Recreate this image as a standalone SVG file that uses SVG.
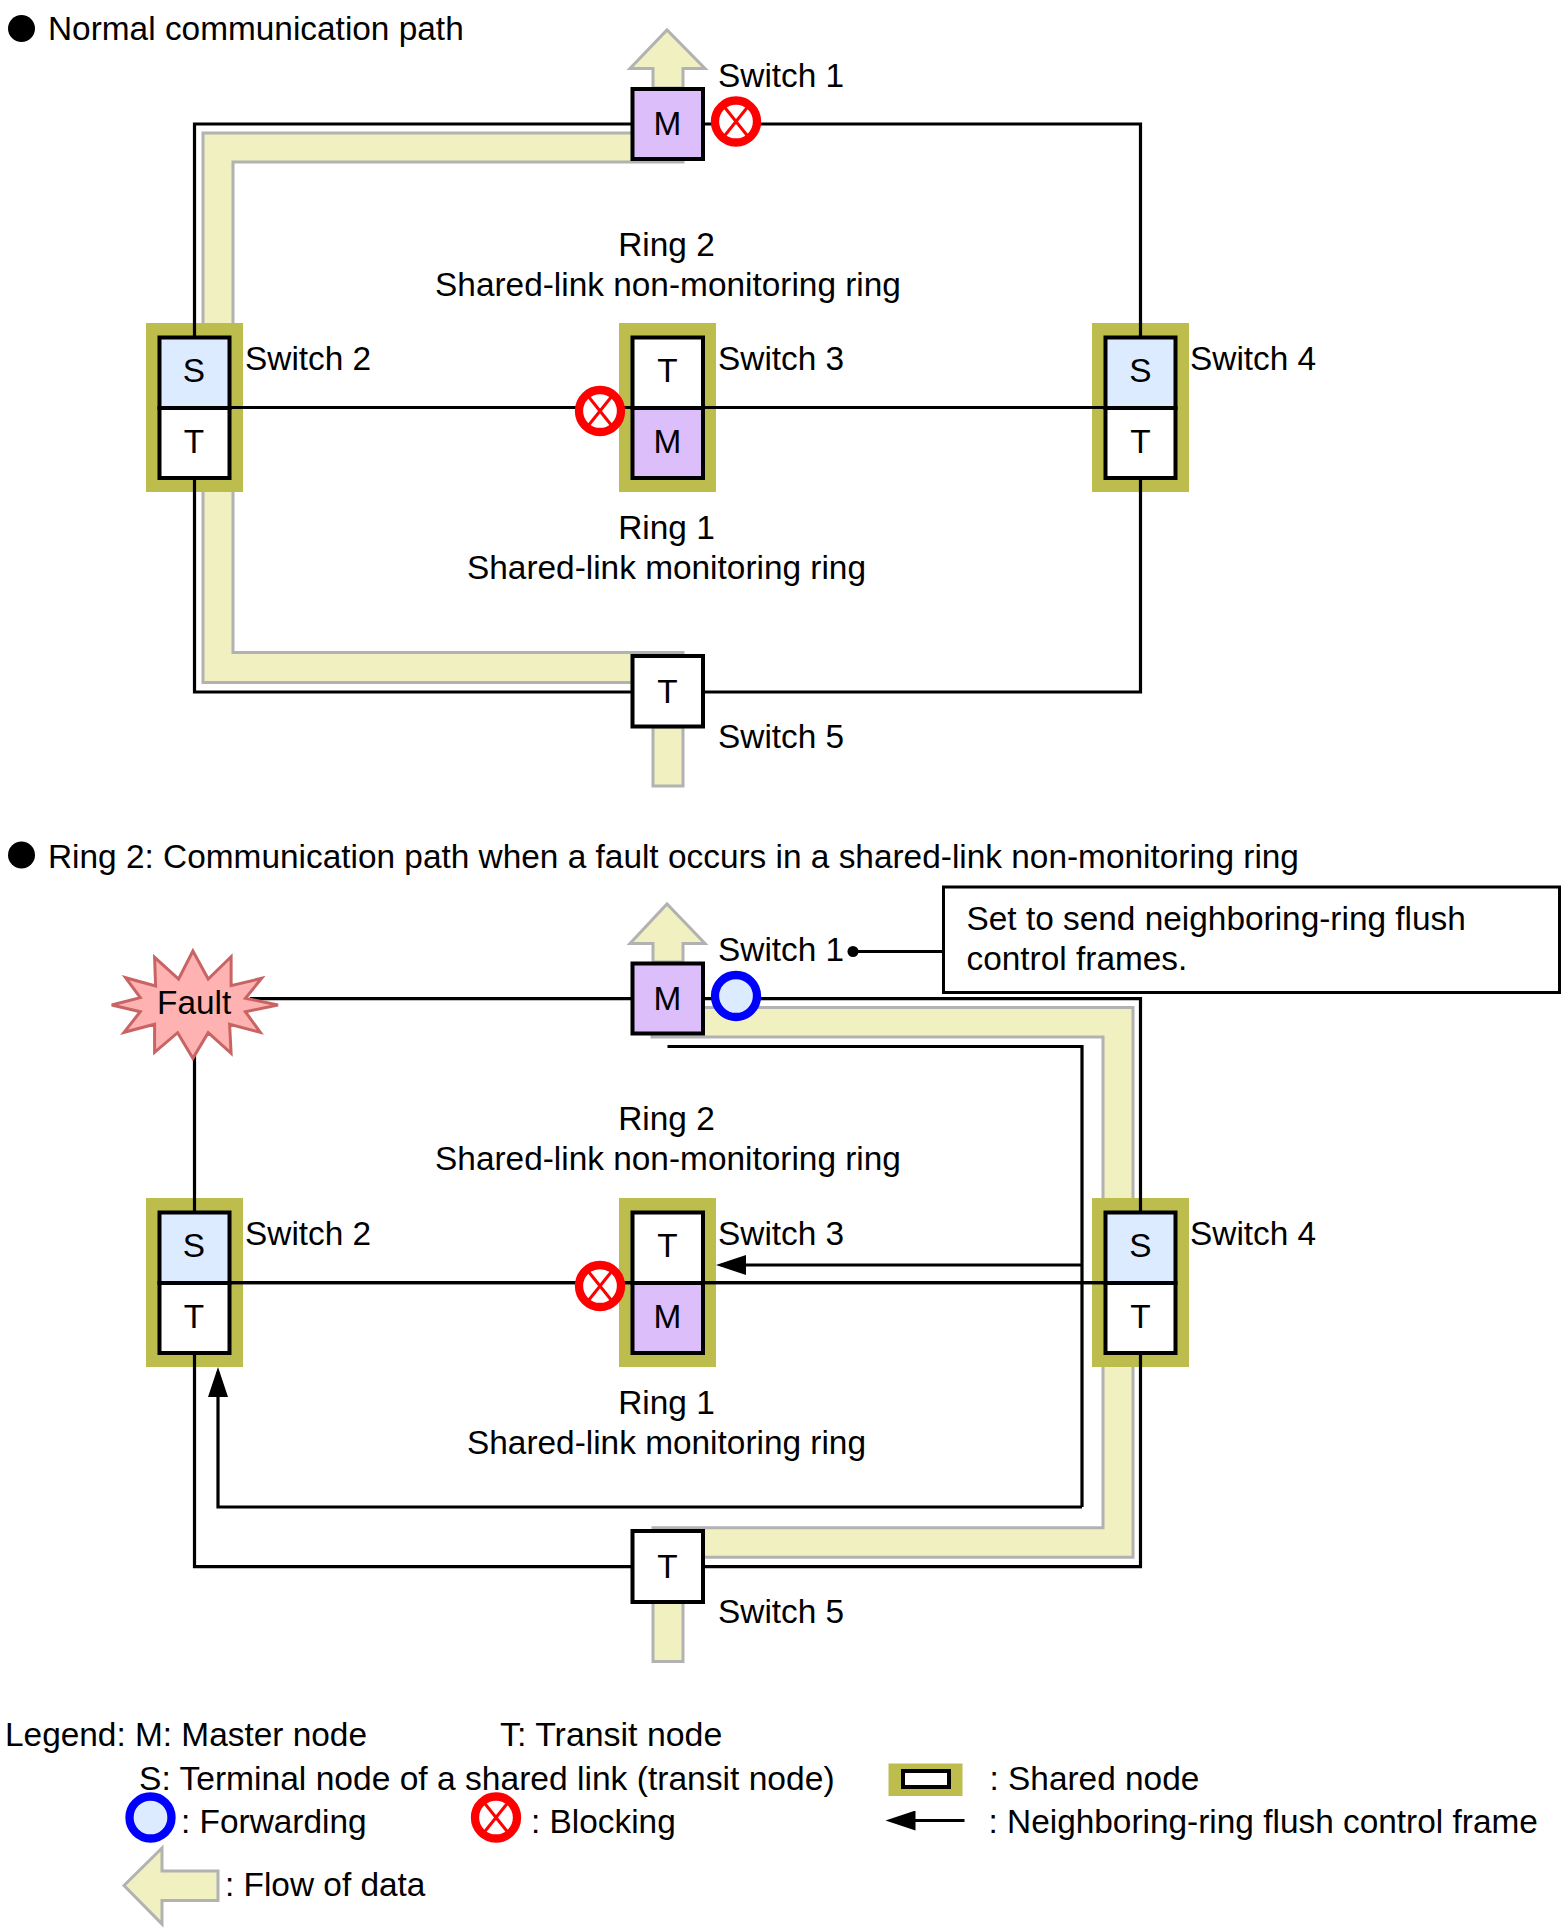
<svg xmlns="http://www.w3.org/2000/svg" width="1566" height="1931" viewBox="0 0 1566 1931">
<style>
text{font-family:"Liberation Sans",Arial,sans-serif;font-size:33.4px;fill:#000}
.m{text-anchor:middle}
.band{fill:#f0f0c0;stroke:#b2b2b2;stroke-width:3}
.line{fill:none;stroke:#000;stroke-width:3.2}
.shared{fill:#bdbd4e}
.box{stroke:#000;stroke-width:4}
.w{fill:#fff}.p{fill:#dcbefa}.b{fill:#dcebff}
</style>
<defs>
<marker id="ah" markerUnits="userSpaceOnUse" markerWidth="31" markerHeight="20" refX="25" refY="10" orient="auto"><path d="M0 0L30 10L0 20Z" fill="#000"/></marker>
<g id="blk"><circle r="21" fill="#fff" stroke="#f00" stroke-width="8.3"/><path d="M-12-15L12 15M12-15L-12 15" stroke="#f00" stroke-width="3"/></g>
<g id="fwd"><circle r="21" fill="#dcebff" stroke="#00f" stroke-width="8.3"/></g>
</defs>
<text x="48" y="40">Normal communication path</text>
<circle cx="21.5" cy="28.5" r="13.5"/>
<text x="48" y="868">Ring 2: Communication path when a fault occurs in a shared-link non-monitoring ring</text>
<circle cx="21.5" cy="855" r="13.5"/>
<g id="bands">
<path class="band" d="M653 88V68.5H630L667 30L705 68.5H683V88Z"/>
<path class="band" d="M683 133H203V682.5H683V652.5H233V162H683Z"/>
<path class="band" d="M653 727H683V786H653Z"/>
<path class="band" d="M653 962V943.5H630L667 904L705 943.5H683V962Z"/>
<path class="band" d="M652 1007.5H1133V1557.3H653V1527.7H1103V1037H652Z"/>
<path class="band" d="M653 1601H683V1661.5H653Z"/>
</g>
<g id="shared">
<rect class="shared" x="146" y="323" width="97" height="169"/>
<rect class="shared" x="619" y="323" width="97" height="169"/>
<rect class="shared" x="1092" y="323" width="97" height="169"/>
<rect class="shared" x="146" y="1198" width="97" height="169"/>
<rect class="shared" x="619" y="1198" width="97" height="169"/>
<rect class="shared" x="1092" y="1198" width="97" height="169"/>
</g>
<g id="connectors">
<path class="line" d="M633 124H194.5V692H633M704 692H1140.5V124H704"/>
<path class="line" d="M231 407.5H1105"/>
<path class="line" d="M250 998.7H633M194.5 1055V1212M704 998.7H1140.5V1212M194.5 1353V1566.7H633M704 1566.7H1140.5V1353"/>
<path class="line" d="M231 1282.7H1105"/>
<path class="line" d="M667.5 1046.5H1082V1507"/>
<path class="line" d="M1082 1265H721" marker-end="url(#ah)"/>
<path class="line" d="M1082 1507H218V1372" marker-end="url(#ah)"/>
<path class="line" d="M943 951.5H853"/>
<circle cx="853" cy="951.5" r="5.5"/>
</g>
<g id="sw1a"><rect class="box p" x="632.5" y="89" width="70.5" height="70"/><text class="m" x="667.5" y="135">M</text></g>
<g id="sw2a"><rect class="box b" x="159.5" y="337.5" width="70" height="70.5"/><rect class="box w" x="159.5" y="408" width="70" height="70"/><text class="m" x="194" y="382">S</text><text class="m" x="194" y="453">T</text></g>
<g id="sw3a"><rect class="box w" x="632.5" y="337.5" width="70.5" height="70.5"/><rect class="box p" x="632.5" y="408" width="70.5" height="70"/><text class="m" x="667.5" y="382">T</text><text class="m" x="667.5" y="453">M</text></g>
<g id="sw4a"><rect class="box b" x="1105.5" y="337.5" width="70" height="70.5"/><rect class="box w" x="1105.5" y="408" width="70" height="70"/><text class="m" x="1140.5" y="382">S</text><text class="m" x="1140.5" y="453">T</text></g>
<g id="sw5a"><rect class="box w" x="632.5" y="656" width="70.5" height="70.5"/><text class="m" x="667.5" y="703">T</text></g>
<path class="line" d="M231 407.5H1105"/>
<use href="#blk" x="736" y="121.5"/><use href="#blk" x="600" y="411"/>
<text x="718" y="86.5">Switch 1</text><text x="245" y="370">Switch 2</text><text x="718" y="370">Switch 3</text><text x="1190" y="370">Switch 4</text><text x="718" y="748">Switch 5</text>
<text class="m" x="666.5" y="256">Ring 2</text><text class="m" x="668" y="296">Shared-link non-monitoring ring</text>
<text class="m" x="666.5" y="539">Ring 1</text><text class="m" x="666.5" y="579">Shared-link monitoring ring</text>

<g id="fault"><path d="M192.9 951L208.2 979L231.1 956.7L231.1 985.7L261.7 978.3L245.4 998.3L278 1005L245.4 1011.7L260.2 1032.3L229.6 1024.3L231.1 1053.3L208.2 1032.7L192.9 1058.3L177.6 1032.7L154.6 1052.3L154.6 1024.3L124 1032.3L140.3 1011.7L111.7 1005L140.3 997.7L125.5 977.7L155.6 986L154.6 957.3L178.6 979Z" fill="#ffb2b2" stroke="#c86464" stroke-width="3"/><text x="157" y="1014">Fault</text></g>
<g id="sw1b"><rect class="box p" x="632.5" y="963.5" width="70.5" height="70"/><text class="m" x="667.5" y="1009.5">M</text></g>
<g id="sw2b"><rect class="box b" x="159.5" y="1212.5" width="70" height="70.5"/><rect class="box w" x="159.5" y="1283" width="70" height="70"/><text class="m" x="194" y="1257">S</text><text class="m" x="194" y="1328">T</text></g>
<g id="sw3b"><rect class="box w" x="632.5" y="1212.5" width="70.5" height="70.5"/><rect class="box p" x="632.5" y="1283" width="70.5" height="70"/><text class="m" x="667.5" y="1257">T</text><text class="m" x="667.5" y="1328">M</text></g>
<g id="sw4b"><rect class="box b" x="1105.5" y="1212.5" width="70" height="70.5"/><rect class="box w" x="1105.5" y="1283" width="70" height="70"/><text class="m" x="1140.5" y="1257">S</text><text class="m" x="1140.5" y="1328">T</text></g>
<g id="sw5b"><rect class="box w" x="632.5" y="1531" width="70.5" height="71"/><text class="m" x="667.5" y="1578">T</text></g>
<path class="line" d="M231 1282.7H1105"/>
<use href="#fwd" x="736" y="996"/><use href="#blk" x="600" y="1286"/>
<text x="718" y="961">Switch 1</text><text x="245" y="1245">Switch 2</text><text x="718" y="1245">Switch 3</text><text x="1190" y="1245">Switch 4</text><text x="718" y="1623">Switch 5</text>
<text class="m" x="666.5" y="1130">Ring 2</text><text class="m" x="668" y="1170">Shared-link non-monitoring ring</text>
<text class="m" x="666.5" y="1414">Ring 1</text><text class="m" x="666.5" y="1454">Shared-link monitoring ring</text>
<g id="note"><rect x="943.5" y="887" width="616" height="105.5" fill="#fff" stroke="#000" stroke-width="3"/><text x="966.5" y="929.5">Set to send neighboring-ring flush</text><text x="966.5" y="969.5">control frames.</text></g>
<g id="legend">
<text x="5" y="1746">Legend: M: Master node</text><text x="500" y="1746" style="font-size:33.9px">T: Transit node</text>
<text x="139" y="1789.5" style="font-size:33.6px">S: Terminal node of a shared link (transit node)</text>
<use href="#fwd" x="150.5" y="1817.5"/><text x="181" y="1833">: Forwarding</text>
<use href="#blk" x="496" y="1817.5"/><text x="531" y="1833">: Blocking</text>
<path class="band" d="M124 1885.5L162 1848V1871H218V1900.5H162V1924Z"/><text x="225" y="1896">: Flow of data</text>
<rect class="shared" x="888.5" y="1763.5" width="74" height="32.5"/><rect x="903" y="1771" width="46" height="16" fill="#fff" stroke="#000" stroke-width="4"/><text x="989.5" y="1790">: Shared node</text>
<path class="line" d="M964.5 1820.5H890.5" marker-end="url(#ah)"/>
<text x="988.5" y="1833">: Neighboring-ring flush control frame</text>
</g>
</svg>
